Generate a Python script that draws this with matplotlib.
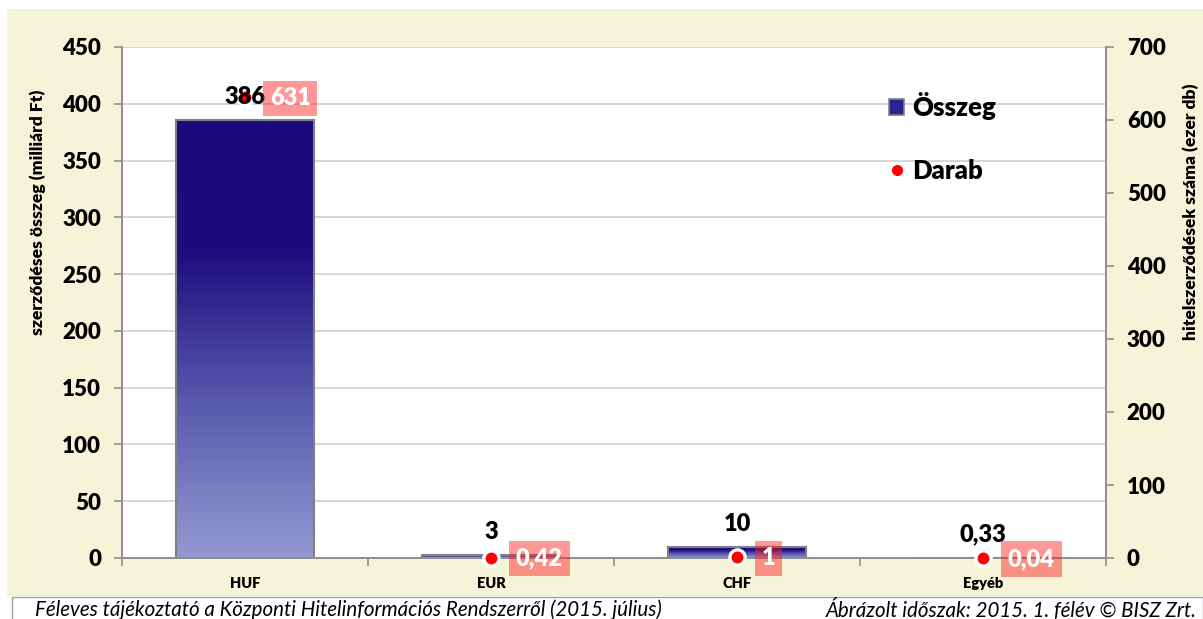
import numpy as np
import matplotlib
matplotlib.use("Agg")
import matplotlib.pyplot as plt
from matplotlib.patches import Rectangle
from matplotlib.colors import LinearSegmentedColormap
from matplotlib.lines import Line2D

categories = ["HUF", "EUR", "CHF", "Egyéb"]
osszeg = [386, 3, 10, 0.33]
darab = [631, 0.42, 1, 0.04]
osszeg_labels = ["386", "3", "10", "0,33"]
darab_labels = ["631", "0,42", "1", "0,04"]
left_ticks = [0, 50, 100, 150, 200, 250, 300, 350, 400, 450]
right_ticks = [0, 100, 200, 300, 400, 500, 600, 700]

plt.rcParams['font.family'] = ['Lato', 'DejaVu Sans']
BW = 800  # bold weight

W, H = 1203, 619
fig = plt.figure(figsize=(W / 100, H / 100), dpi=100)
fig.patch.set_facecolor("white")

beige = "#F5F4D8"
fig.patches.append(Rectangle((7 / W, 1 - 596 / H), (W - 7) / W, (596 - 9) / H,
                             transform=fig.transFigure, fc=beige, ec="none", zorder=-10))
fig.patches.append(Rectangle((12 / W, -0.05), (W - 12) / W, (0.05 + (619 - 597) / H),
                             transform=fig.transFigure, fc="white", ec="#A0A0A0", lw=1.0, zorder=-9))

ax = fig.add_axes([122 / W, 1 - 558 / H, (1106 - 122) / W, (558 - 47) / H])
ax.set_facecolor("white")
ax2 = ax.twinx()

x = np.arange(len(categories))
bw = 0.557
bars = ax.bar(x, osszeg, width=bw, color="none", edgecolor="#808080", linewidth=1.5, zorder=3)
cmap = LinearSegmentedColormap.from_list(
    "g", [(0, "#9499D2"), (0.35, "#5A5AAE"), (0.7, "#1E0C7E"), (1, "#1C0A7C")])
grad = np.linspace(0, 1, 256).reshape(-1, 1)
for b in bars:
    x0, w, h = b.get_x(), b.get_width(), b.get_height()
    im = ax.imshow(grad, extent=[x0, x0 + w, 0, h], origin="lower", cmap=cmap,
                   aspect="auto", zorder=2)
    im.set_clip_path(b)
ax.set_xlim(-0.5, 3.5)
ax.set_ylim(0, 450)
ax2.set_ylim(0, 700)

ax2.scatter(x, darab, s=120, c="red", edgecolors="white", linewidths=2.4, zorder=5, clip_on=False)

# bar value labels drawn on the top axes so they sit above the dots
for xi, v, lab in zip(x, osszeg, osszeg_labels):
    ax2.annotate(lab, (xi, v), xycoords=ax.transData, xytext=(0, 12), textcoords="offset pixels",
                 ha="center", va="bottom", fontsize=17, fontweight=BW, color="black", zorder=6)

for xi, v, lab in zip(x, darab, darab_labels):
    ax2.annotate(lab, (xi, v), xytext=(25, -1), textcoords="offset pixels", ha="left",
                 va="center", fontsize=17, fontweight=BW, color="white", zorder=7,
                 bbox=dict(boxstyle="square,pad=0.28", fc=(1, 0.1, 0.1, 0.45), ec="none"))

# grid and spines
ax.set_yticks(left_ticks)
ax.yaxis.grid(True, color="#D0D0D0", linewidth=1.2)
ax.set_axisbelow(True)
ax2.set_yticks(right_ticks)
for a in (ax, ax2):
    a.spines["top"].set_visible(False)
    for s in ("left", "right", "bottom"):
        a.spines[s].set_color("#909090")
        a.spines[s].set_linewidth(1.3)
ax.tick_params(axis="y", length=6, width=1.2, color="#909090", labelsize=16, pad=9)
ax2.tick_params(axis="y", length=6, width=1.2, color="#909090", labelsize=16, pad=9)
for t in ax.get_yticklabels() + ax2.get_yticklabels():
    t.set_fontweight(BW)

ax.set_xticks([-0.5, 0.5, 1.5, 2.5, 3.5])
ax.set_xticklabels([])
ax.tick_params(axis="x", which="major", length=6, width=1.2, color="#909090")
ax.set_xticks(x, minor=True)
ax.set_xticklabels(categories, minor=True)
ax.tick_params(axis="x", which="minor", length=0, pad=14, labelsize=10.5)
for t in ax.get_xticklabels(minor=True):
    t.set_fontweight(BW)

ax.set_ylabel("szerződéses összeg (milliárd Ft)", fontsize=12.6, fontweight=BW)
ax.yaxis.label.set_va("center")
ax.yaxis.set_label_coords((38 - 122) / 984, (558 - 212) / 511)
ax2.set_ylabel("hitelszerződések száma (ezer db)", fontsize=12.6, fontweight=BW, rotation=90)
ax2.yaxis.label.set_va("center")
ax2.yaxis.set_label_coords((1191 - 122) / 984, (558 - 212) / 511)

# legend
h1 = Rectangle((0, 0), 1, 1, fc="#2A2290", ec="#808080", lw=1.2)
h2 = Line2D([], [], marker="o", color="red", linestyle="none", markersize=7)
leg = ax2.legend([h1, h2], ["Összeg", "Darab"], loc="center left",
                 bbox_to_anchor=((889 - 122) / 984, (558 - 137.5) / 511),
                 frameon=False, prop={"size": 18.5, "weight": BW}, labelspacing=1.5,
                 borderpad=0, borderaxespad=0,
                 handlelength=0.6, handleheight=0.6, handletextpad=0.3)

fig.text(35 / W, 1 - 610 / H, "Féleves tájékoztató a Központi Hitelinformációs Rendszerről (2015. július)",
         fontsize=14.8, style="italic", ha="left", va="center")
fig.text(1197 / W, 1 - 610 / H, "Ábrázolt időszak: 2015. 1. félév © BISZ Zrt.",
         fontsize=14.8, style="italic", ha="right", va="center")

fig.savefig("out.png", dpi=100)
